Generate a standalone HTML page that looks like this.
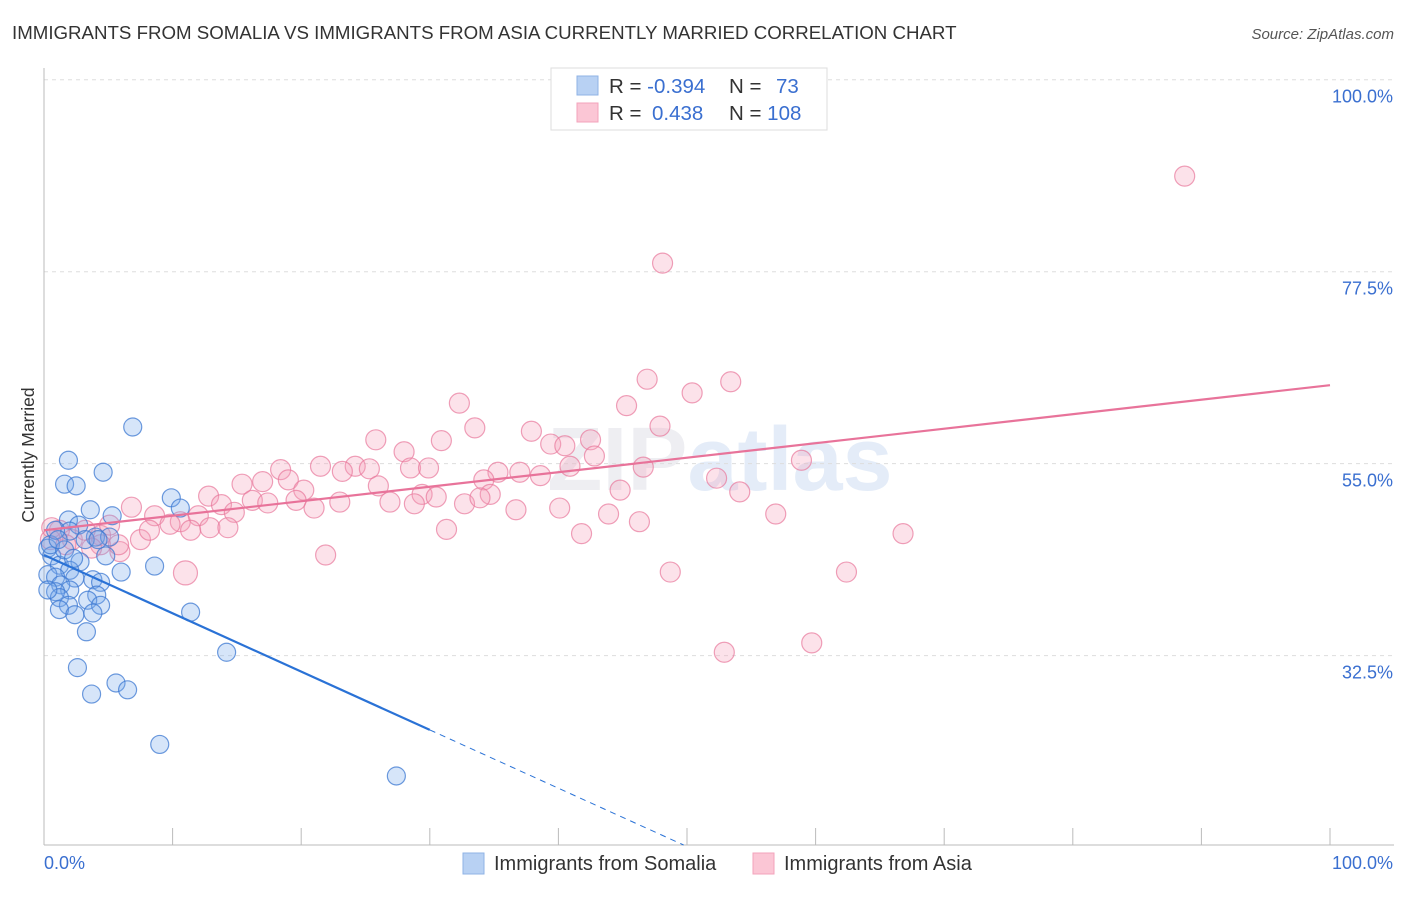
<!DOCTYPE html>
<html><head><meta charset="utf-8"><style>
body{margin:0;background:#fff;font-family:"Liberation Sans",sans-serif}
</style></head><body>
<svg width="1406" height="892" xmlns="http://www.w3.org/2000/svg" style="font-family:'Liberation Sans',sans-serif">
<text x="12" y="39" font-size="18.7" fill="#333">IMMIGRANTS FROM SOMALIA VS IMMIGRANTS FROM ASIA CURRENTLY MARRIED CORRELATION CHART</text>
<text x="1394" y="39" font-size="15" fill="#555" text-anchor="end" font-style="italic">Source: ZipAtlas.com</text>
<text x="720" y="490" font-size="90" fill="#eeeef2" text-anchor="middle" font-weight="bold">ZIP<tspan fill="#e4ecf8">atlas</tspan></text>
<g id="grid"></g>
<g id="axes"></g>
<g id="marks"></g>
<text transform="translate(34,455) rotate(-90)" font-size="17.5" fill="#333" text-anchor="middle">Currently Married</text>
<text x="44" y="869" font-size="18" fill="#3a6fd0">0.0%</text>
<text x="1393" y="869" font-size="18" fill="#3a6fd0" text-anchor="end">100.0%</text>
<g>
<rect x="551" y="68" width="276" height="62" fill="#fff" stroke="#ddd"/>
<rect x="577" y="76" width="21" height="19" fill="#b8d1f3" stroke="#8fb3e6"/>
<rect x="577" y="103" width="21" height="19" fill="#fbc6d5" stroke="#f3a3bb"/>
<text x="609" y="93" font-size="20.5" fill="#333">R = <tspan fill="#3a6fd0">-0.394</tspan></text>
<text x="729" y="93" font-size="20.5" fill="#333">N = <tspan fill="#3a6fd0" x="776">73</tspan></text>
<text x="609" y="120" font-size="20.5" fill="#333">R = <tspan fill="#3a6fd0" x="652">0.438</tspan></text>
<text x="729" y="120" font-size="20.5" fill="#333">N = <tspan fill="#3a6fd0">108</tspan></text>
</g>
<g>
<rect x="463" y="853" width="21" height="21" fill="#b8d1f3" stroke="#8fb3e6"/>
<text x="494" y="870" font-size="20" fill="#333">Immigrants from Somalia</text>
<rect x="753" y="853" width="21" height="21" fill="#fbc6d5" stroke="#f3a3bb"/>
<text x="784" y="870" font-size="20" fill="#333">Immigrants from Asia</text>
</g>
</svg>
<script>
const yTicks=[100,77.5,55,32.5];
const yTickLabels=["100.0%","77.5%","55.0%","32.5%"];
const somaliaX=[6.9,1.9,4.6,1.6,2.5,9.9,10.6,3.6,5.3,1.9,2.7,2.0,4.0,5.1,0.3,0.6,4.8,2.8,1.2,2.0,8.6,6.0,0.3,0.9,2.4,3.8,4.4,1.3,2.0,0.9,4.1,3.4,1.2,4.4,1.9,1.2,2.4,3.8,11.4,3.3,14.2,2.6,5.6,6.5,3.7,9.0,27.4,0.5,0.9,3.2,1.6,2.3,0.3,4.2,1.1];
const somaliaY=[59.3,55.4,54.0,52.6,52.4,51.0,49.8,49.6,48.9,48.4,47.8,47.1,46.4,46.4,45.1,44.2,44.2,43.5,43.1,42.5,43.0,42.3,42.0,41.7,41.6,41.4,41.1,40.8,40.2,40.0,39.6,39.0,39.3,38.4,38.4,37.9,37.3,37.5,37.6,35.3,32.9,31.1,29.3,28.5,28.0,22.1,18.4,45.5,47.2,46.1,44.9,43.9,40.2,46.1,46.1];
const asiaX=[88.7,48.1,46.9,53.4,50.4,32.3,45.3,47.9,33.5,37.9,25.8,30.9,39.4,42.5,28.0,40.5,42.8,58.9,18.4,21.5,24.2,28.5,29.9,23.2,25.3,35.3,37.0,40.9,46.6,52.3,15.4,17.0,19.0,34.2,38.6,44.8,54.1,26.0,20.2,29.4,30.5,34.7,12.8,16.2,17.4,19.6,21.0,23.0,26.9,28.8,32.7,33.9,36.7,40.1,43.9,56.9,6.8,8.6,10.6,12.0,13.8,14.8,9.8,11.4,12.9,14.3,46.3,31.3,41.8,66.8,7.5,5.9,1.2,2.2,4.4,5.1,3.2,0.5,21.9,11.0,48.7,62.4,52.9,59.7,0.6,1.7,4.4,8.2,5.8,3.7];
const asiaY=[88.7,78.5,64.9,64.6,63.3,62.1,61.8,59.4,59.2,58.8,57.8,57.7,57.3,57.8,56.4,57.1,55.9,55.4,54.3,54.7,54.7,54.5,54.5,54.1,54.4,54.0,54.0,54.7,54.6,53.3,52.6,52.9,53.1,53.1,53.6,51.9,51.7,52.4,51.9,51.4,51.1,51.4,51.2,50.7,50.4,50.7,49.8,50.5,50.5,50.3,50.3,51.0,49.6,49.8,49.1,49.1,49.9,48.9,48.2,48.9,50.2,49.3,47.9,47.2,47.5,47.5,48.2,47.3,46.8,46.8,46.1,44.7,47.2,46.1,46.6,47.8,47.2,46.1,44.3,42.2,42.3,42.3,32.9,34.0,47.5,45.5,45.5,47.2,45.5,45.1];
const somaliaTrend=[44.3,23.8]; // at x=0 and x=30
const asiaTrend=[47.2,64.2]; // at x=0 and x=100
const NS="http://www.w3.org/2000/svg";
const X=v=>44+v*12.86, Y=v=>933-v*8.533;
function mk(t,a,p){const e=document.createElementNS(NS,t);for(const k in a)e.setAttribute(k,a[k]);p.appendChild(e);return e;}
const grid=document.getElementById('grid'),axes=document.getElementById('axes'),marks=document.getElementById('marks');
yTicks.forEach((t,i)=>{
 const l=mk('line',{x1:44,x2:1394,y1:Y(t),y2:Y(t),stroke:'#ddd','stroke-dasharray':'4,4'},grid);
 
 
 const tx=mk('text',{x:1393,y:Y(t)+23,'font-size':18,fill:'#3a6fd0','text-anchor':'end'},grid);
 tx.textContent=yTickLabels[i];
 
 
});
const ax=mk('line',{x1:44,x2:44,y1:68,y2:845,stroke:'#bbb'},axes);


const bx=mk('line',{x1:44,x2:1394,y1:845,y2:845,stroke:'#bbb'},axes);


for(let i=0;i<=10;i++){const t=mk('line',{x1:X(i*10),x2:X(i*10),y1:828,y2:845,stroke:'#bbb'},axes);
 
 }
asiaX.forEach((x,i)=>{const c=mk('circle',{cx:X(x),cy:Y(asiaY[i]),r:(i==79?12:10),fill:'rgba(246,160,185,0.3)',stroke:'rgba(232,120,155,0.7)','stroke-width':1.2},marks);
 
 });
somaliaX.forEach((x,i)=>{const c=mk('circle',{cx:X(x),cy:Y(somaliaY[i]),r:9,fill:'rgba(120,170,235,0.3)',stroke:'rgba(60,120,210,0.75)','stroke-width':1.2},marks);
 
 });
const pl=mk('line',{x1:X(0),y1:Y(asiaTrend[0]),x2:X(100),y2:Y(asiaTrend[1]),stroke:'#e8739a','stroke-width':2.2},marks);


const slope=(somaliaTrend[1]-somaliaTrend[0])/30;
const bl=mk('line',{x1:X(0),y1:Y(somaliaTrend[0]),x2:X(30),y2:Y(somaliaTrend[1]),stroke:'#2a72d6','stroke-width':2.2},marks);


const xe=(somaliaTrend[0]-(933-845)/8.533)/(-slope);
const bd=mk('line',{x1:X(30),y1:Y(somaliaTrend[1]),x2:X(xe),y2:845,stroke:'#2a72d6','stroke-width':1,'stroke-dasharray':'6,5'},marks);


</script>
</body></html>
